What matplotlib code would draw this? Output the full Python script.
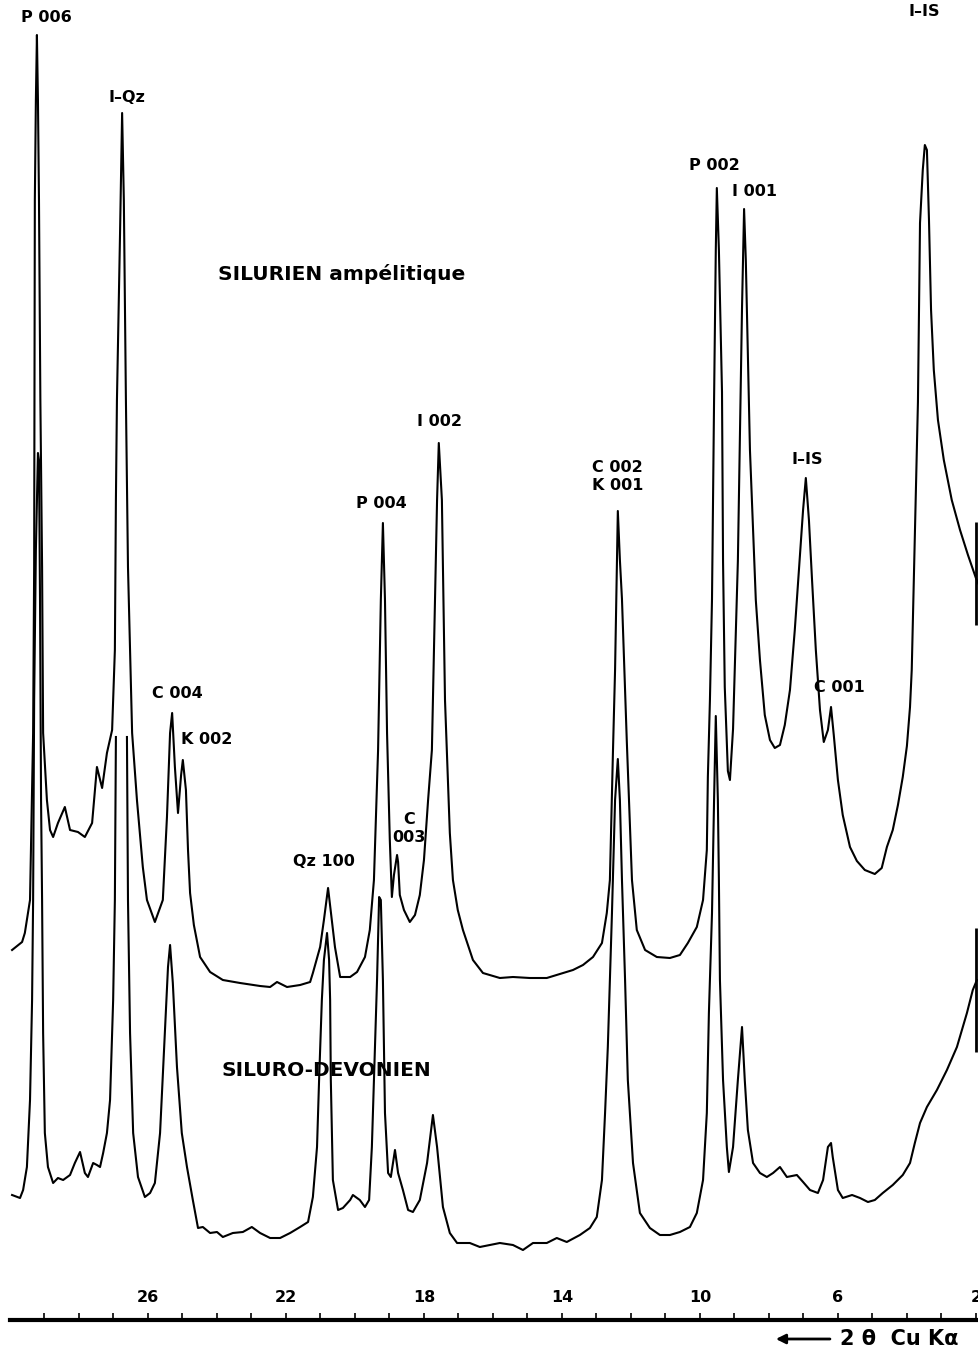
import numpy as np
import matplotlib
matplotlib.use("Agg")
import matplotlib.pyplot as plt

# diffractogramme X (2 theta Cu K alpha), deux echantillons
# intensite en unites arbitraires (hauteur au-dessus de l'axe)

# SILURIEN ampelitique (courbe du haut)
sil_2theta = [29.94, 29.65, 29.57, 29.48, 29.42, 29.33, 29.30, 29.29, 29.28, 29.25, 29.22,
              29.19, 29.16, 29.12, 29.07, 29.04, 28.93, 28.84, 28.75, 28.61, 28.41, 28.26,
              28.03, 27.83, 27.62, 27.48, 27.33, 27.19, 27.04, 26.96, 26.93, 26.90, 26.81,
              26.75, 26.70, 26.64, 26.58, 26.46, 26.32, 26.15, 26.03, 25.80, 25.57, 25.45,
              25.36, 25.30, 25.22, 25.13, 25.04, 24.99, 24.90, 24.84, 24.78, 24.67, 24.49,
              24.20, 23.83, 23.33, 22.75, 22.46, 22.26, 21.97, 21.59, 21.30, 21.22, 21.01,
              20.90, 20.78, 20.67, 20.58, 20.43, 20.14, 19.94, 19.71, 19.57, 19.45, 19.33,
              19.25, 19.19, 19.13, 19.07, 18.99, 18.93, 18.87, 18.78, 18.75, 18.70, 18.58,
              18.41, 18.26, 18.12, 18.00, 17.88, 17.77, 17.68, 17.62, 17.57, 17.48, 17.39,
              17.25, 17.16, 17.02, 16.87, 16.58, 16.29, 15.80, 15.42, 14.93, 14.44, 13.97,
              13.68, 13.39, 13.10, 12.84, 12.70, 12.61, 12.52, 12.46, 12.38, 12.32, 12.26,
              12.12, 11.97, 11.83, 11.59, 11.25, 10.87, 10.58, 10.35, 10.09, 9.91, 9.80,
              9.77, 9.71, 9.65, 9.59, 9.54, 9.51, 9.45, 9.36, 9.33, 9.28, 9.19, 9.13, 9.04,
              8.90, 8.78, 8.72, 8.67, 8.55, 8.46, 8.38, 8.26, 8.12, 7.97, 7.83, 7.68, 7.54,
              7.39, 7.25, 7.13, 7.01, 6.93, 6.84, 6.75, 6.64, 6.52, 6.41, 6.29, 6.20, 6.12,
              6.00, 5.86, 5.65, 5.45, 5.22, 4.93, 4.73, 4.58, 4.41, 4.26, 4.12, 4.00, 3.91,
              3.86, 3.77, 3.68, 3.62, 3.54, 3.48, 3.42, 3.36, 3.30, 3.22, 3.10, 2.93, 2.70,
              2.46, 2.23, 2.00, 1.91]
sil_int = [370, 378, 387, 407, 420, 587, 753, 920, 1120, 1220, 1285,
           1220, 1120, 920, 753, 587, 520, 490, 483, 497, 513, 490,
           488, 483, 497, 553, 532, 567, 590, 670, 820, 920, 1087,
           1207, 1120, 920, 753, 587, 520, 453, 420, 398, 420, 503,
           587, 607, 553, 507, 545, 560, 530, 470, 427, 395, 363,
           348, 340, 337, 334, 333, 338, 333, 335, 338, 347, 373,
           400, 432, 400, 373, 343, 343, 348, 363, 390, 440, 570,
           720, 797, 720, 587, 480, 423, 445, 465, 458, 425, 410,
           398, 405, 425, 460, 520, 570, 720, 820, 877, 820, 620,
           487, 440, 410, 390, 360, 347, 342, 343, 342, 342, 347,
           350, 355, 363, 377, 407, 440, 570, 650, 809, 760, 721,
           579, 440, 390, 370, 363, 362, 365, 377, 393, 420, 470,
           543, 620, 721, 920, 1070, 1132, 1070, 928, 759, 633, 549, 540, 591,
           759, 1012, 1111, 1060, 870, 790, 720, 660, 605, 580, 572, 575, 595,
           630, 690, 750, 810, 842, 800, 740, 670, 610, 578, 590, 613, 585,
           540, 505, 473, 459, 450, 446, 452, 473, 490, 515, 543, 574, 613,
           650, 784, 918, 1097, 1150, 1175, 1170, 1100, 1010, 950, 900, 860, 820,
           790, 765, 742, 735]

# SILURO-DEVONIEN (courbe du bas); nan = trace hors echelle
dev_2theta = [29.94, 29.71, 29.62, 29.51, 29.42, 29.36, 29.33, 29.30, 29.25, 29.19, 29.16,
              29.13, 29.10, 29.07, 29.04, 28.99, 28.90, 28.75, 28.61, 28.46, 28.26, 28.12,
              27.97, 27.83, 27.74, 27.59, 27.48, 27.39, 27.30, 27.19, 27.10, 27.01, 26.96,
              26.93, 26.77, 26.61, 26.58, 26.52, 26.43, 26.29, 26.09, 25.94, 25.80, 25.65,
              25.51, 25.42, 25.36, 25.28, 25.16, 25.02, 24.87, 24.70, 24.55, 24.41, 24.20,
              24.00, 23.83, 23.54, 23.25, 22.99, 22.75, 22.46, 22.17, 21.88, 21.59, 21.36,
              21.22, 21.10, 21.04, 20.96, 20.90, 20.81, 20.75, 20.72, 20.70, 20.64, 20.49,
              20.35, 20.14, 20.06, 19.86, 19.71, 19.59, 19.51, 19.45, 19.36, 19.30, 19.25,
              19.19, 19.13, 19.04, 18.96, 18.84, 18.75, 18.61, 18.46, 18.32, 18.12, 17.91,
              17.74, 17.62, 17.45, 17.25, 17.04, 16.67, 16.38, 16.09, 15.80, 15.42, 15.13,
              14.84, 14.44, 14.15, 13.86, 13.48, 13.19, 12.99, 12.84, 12.75, 12.67, 12.61,
              12.55, 12.46, 12.38, 12.32, 12.26, 12.17, 12.09, 11.94, 11.74, 11.45, 11.16,
              10.87, 10.58, 10.29, 10.09, 9.91, 9.80, 9.74, 9.65, 9.59, 9.54, 9.48, 9.45,
              9.42, 9.33, 9.22, 9.16, 9.04, 8.90, 8.78, 8.70, 8.61, 8.46, 8.26, 8.06, 7.88,
              7.68, 7.48, 7.19, 7.01, 6.81, 6.58, 6.43, 6.29, 6.20, 6.15, 6.00, 5.86, 5.59,
              5.36, 5.13, 4.93, 4.70, 4.41, 4.12, 3.91, 3.77, 3.62, 3.42, 3.13, 2.84, 2.55,
              2.26, 2.09, 1.97]
dev_int = [125, 122, 130, 153, 220, 320, 420, 620, 770, 867, 860,
           720, 520, 420, 287, 187, 153, 137, 142, 140, 145, 157,
           168, 147, 143, 157, 155, 153, 167, 187, 220, 320, 420,
           583, np.nan, 583, 420, 287, 187, 143, 123, 127, 137, 187,
           287, 353, 375, 337, 253, 187, 153, 120, 92, 93, 87,
           88, 83, 87, 88, 93, 87, 82, 82, 87, 93, 98,
           123, 173, 240, 320, 360, 387, 360, 320, 240, 140, 110,
           112, 120, 125, 120, 113, 120, 173, 240, 340, 423, 420,
           340, 207, 147, 143, 170, 147, 130, 110, 108, 120, 157,
           205, 173, 113, 87, 77, 77, 73, 75, 77, 75, 70,
           77, 77, 82, 78, 85, 92, 103, 140, 207, 273, 340,
           407, 520, 561, 520, 440, 340, 240, 157, 107, 92, 85,
           85, 88, 93, 107, 140, 207, 307, 407, 520, 604, 520, 440,
           340, 240, 173, 148, 173, 240, 293, 240, 190, 157, 147, 143, 147,
           153, 143, 145, 138, 130, 127, 140, 173, 177, 163, 130, 122, 125,
           122, 118, 120, 127, 135, 145, 157, 177, 197, 213, 230, 250, 273,
           307, 330, 340]

# traits verticaux de fin d'enregistrement (2theta, bas, haut)
end_mark_2theta = [2.0, 2.0]
end_mark_low = [695, 268]
end_mark_high = [798, 392]

# indexation des pics (texte, 2theta, hauteur)
peak_labels = ["P 006", "I\u2013Qz", "C 004", "K 002", "Qz 100", "C\n003", "P 004",
               "I 002", "C 002\nK 001", "P 002", "I 001", "I\u2013IS", "C 001", "I\u2013IS"]
peak_label_2theta = [28.96, 26.61, 25.16, 24.29, 20.90, 18.43, 19.22,
                     17.54, 12.38, 9.57, 8.43, 6.90, 5.97, 3.51]
peak_label_int = [1302, 1223, 627, 580, 458, 492, 817,
                  898, 843, 1155, 1128, 860, 632, 1308]

sample_names = ["SILURIEN ampélitique", "SILURO-DEVONIEN"]
sample_name_2theta = [23.97, 23.86]
sample_name_int = [1046, 249]

major_ticks = [26, 22, 18, 14, 10, 6, 2]
minor_ticks = list(range(29, 1, -1))

fnt = "DejaVu Sans"

fig = plt.figure(figsize=(9.79, 13.54), dpi=100)
ax = fig.add_axes([0, 0, 1, 1])
ax.set_xlim(30.29, 1.91)
ax.set_ylim(-34, 1320)
ax.axis("off")

ax.plot(sil_2theta, sil_int, color="black", lw=1.5, solid_joinstyle="round")
ax.plot(dev_2theta, dev_int, color="black", lw=1.5, solid_joinstyle="round")
ax.vlines(end_mark_2theta, end_mark_low, end_mark_high, color="black", lw=2)

for txt, x, y in zip(peak_labels, peak_label_2theta, peak_label_int):
    ax.text(x, y, txt, ha="center", va="center", fontsize=11.5, family=fnt,
            weight="bold", linespacing=1.25)

for txt, x, y in zip(sample_names, sample_name_2theta, sample_name_int):
    ax.text(x, y, txt, ha="left", va="center", fontsize=14.5, family=fnt, weight="bold")

# axe 2 theta
axx = fig.add_axes([0, 0, 1, 34 / 1354])
axx.set_xlim(30.29, 1.91)
axx.patch.set_alpha(0)
for s in ["left", "right", "bottom"]:
    axx.spines[s].set_visible(False)
axx.spines["top"].set_linewidth(3)
axx.spines["top"].set_bounds(30.0, 1.91)
axx.set_yticks([])
axx.xaxis.tick_top()
axx.set_xticks(major_ticks)
axx.set_xticks(minor_ticks, minor=True)
axx.set_xticklabels([str(t) for t in major_ticks], fontsize=11.5, family=fnt, weight="bold")
axx.tick_params(axis="x", which="both", direction="out", length=5, width=1.2, pad=6)

ax.annotate("", xy=(7.88, -19), xytext=(6.15, -19),
            arrowprops=dict(arrowstyle="-|>", color="black", lw=2, mutation_scale=14))
ax.text(5.94, -19, "2 \u03b8  Cu K\u03b1", ha="left", va="center", fontsize=15,
        family=fnt, weight="bold")

fig.savefig("out.png", dpi=100)
